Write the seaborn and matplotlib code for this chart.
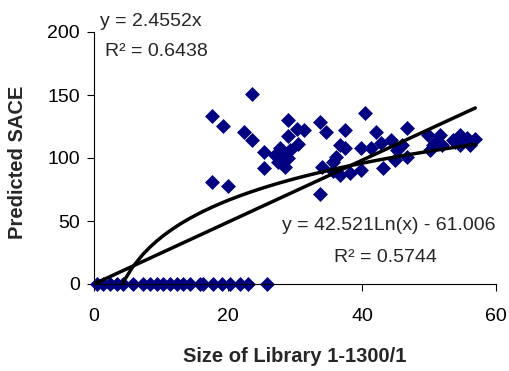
import numpy as np
import pandas as pd
import matplotlib
matplotlib.use("Agg")
import matplotlib.pyplot as plt
import seaborn as sns

# ---- data ----
zero_x = [0.4, 1.3, 2.4, 3.4, 4.3, 5.8, 7.3, 8.4, 9.4, 10.3, 11.3, 12.4, 13.3,
          14.3, 15.8, 16.3, 17.8, 19.1, 20.3, 21.8, 23.0, 25.8]
zero_y = [0.0] * len(zero_x)

pos_x = [17.6, 19.2, 23.6, 22.4, 23.6, 25.3, 25.3, 17.6, 20.0,
         28.9, 28.9, 30.3, 31.3, 30.5, 27.8, 27.0, 28.5, 29.0, 27.5, 28.5, 29.3,
         33.8, 34.7, 40.4, 37.5, 36.7, 37.5, 36.1, 35.7, 34.0, 36.7, 38.2, 39.9,
         33.7, 42.1, 39.8, 41.4, 42.9, 43.2, 44.4, 45.2, 44.9, 46.7, 46.7, 45.9,
         49.9, 51.6, 50.1, 53.6, 54.6, 55.6, 56.9, 56.1, 54.6, 50.6, 51.9, 35.7,
         50.9, 53.9]
pos_y = [133.3, 125.4, 150.6, 120.9, 114.3, 105.0, 91.8, 81.2, 77.8,
         130.2, 117.5, 122.8, 122.2, 111.1, 107.7, 102.4, 102.4, 99.8, 97.1, 93.1, 106.3,
         128.8, 120.9, 135.4, 122.2, 110.3, 107.7, 101.0, 97.1, 92.6, 86.5, 88.3, 90.5,
         71.4, 120.9, 107.7, 107.7, 111.6, 91.8, 114.3, 106.3, 98.4, 123.5, 101.0, 110.3,
         118.3, 118.3, 106.3, 114.3, 118.3, 115.6, 114.8, 110.3, 110.3, 110.3, 110.3, 89.9,
         112.0, 112.7]

lin_slope = 2.4552
log_a = 42.521
log_b = -61.006
lin_label = ["y = 2.4552x", "R² = 0.6438"]
log_label = ["y = 42.521Ln(x) - 61.006", "R² = 0.5744"]
x_ticks = [0, 20, 40, 60]
y_ticks = [0, 50, 100, 150, 200]
x_title = "Size of Library 1-1300/1"
y_title = "Predicted SACE"

# ---- figure ----
sns.set_theme(style="white")
plt.rcParams["font.family"] = ["Liberation Sans", "DejaVu Sans"]

df = pd.DataFrame({"x": zero_x + pos_x, "y": zero_y + pos_y})

W, H = 509, 371
fig = plt.figure(figsize=(W / 100, H / 100), dpi=100)
ax = fig.add_axes([94 / W, 1 - 284 / H, 402 / W, 252 / H])

xs = np.sort(df["x"].unique())
ax.plot(xs, lin_slope * xs, color="black", lw=2.5, zorder=3)
ax.plot(xs, log_a * np.log(xs) + log_b, color="black", lw=2.5, zorder=3)

sns.scatterplot(data=df, x="x", y="y", ax=ax, marker="D", s=58,
                color="#000080", edgecolor="#000080", linewidth=0,
                clip_on=False, zorder=2)

ax.set_xlim(0, 60)
ax.set_ylim(0, 200)
ax.set_xticks(x_ticks)
ax.set_yticks(y_ticks)
ax.tick_params(axis="both", direction="out", length=5, width=0.8, labelsize=14,
               colors="black", left=True, bottom=True)
ax.tick_params(axis="x", pad=12)
ax.tick_params(axis="y", pad=5)
for side in ["top", "right"]:
    ax.spines[side].set_visible(False)
for side in ["left", "bottom"]:
    ax.spines[side].set_color("black")
    ax.spines[side].set_linewidth(0.8)

ax.set_xlabel(x_title, fontsize=14.5, fontweight="bold")
ax.set_ylabel(y_title, fontsize=14.5, fontweight="bold")
ax.xaxis.label.set_va("center")
ax.yaxis.label.set_va("center")
ax.xaxis.set_label_coords(0.5, (284 - 356) / 252)
ax.yaxis.set_label_coords((18 - 94) / 402, (284 - 162) / 252)

fig.text(100 / W, 1 - 21 / H, lin_label[0], fontsize=14, ha="left", va="center")
fig.text(105 / W, 1 - 52 / H, lin_label[1], fontsize=14, ha="left", va="center")
fig.text(496 / W, 1 - 225 / H, log_label[0], fontsize=14, ha="right", va="center")
fig.text(385 / W, 1 - 257 / H, log_label[1], fontsize=14, ha="center", va="center")

fig.savefig("out.png", dpi=100)
